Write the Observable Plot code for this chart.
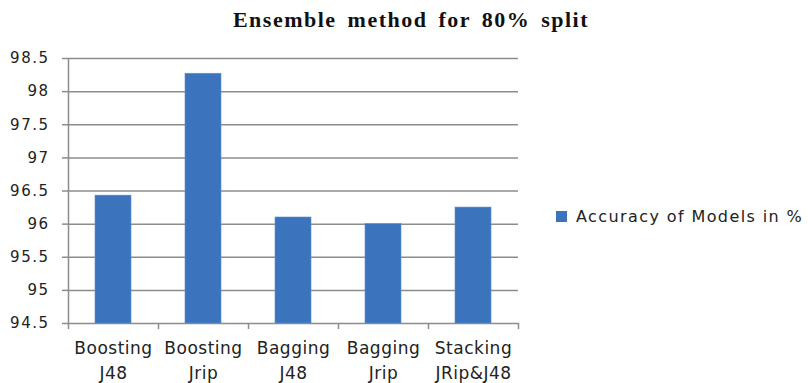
<!DOCTYPE html>
<html>
<head>
<meta charset="utf-8">
<script src="https://cdn.jsdelivr.net/npm/d3@7"></script>
<script src="https://cdn.jsdelivr.net/npm/@observablehq/plot@0.6"></script>
<style>
  html, body { margin: 0; padding: 0; background: #fff; }
  #wrap { position: relative; width: 808px; height: 383px; overflow: hidden; font-family: "DejaVu Sans", sans-serif; }
  #title { position: absolute; top: 7px; left: 0; width: 822px; text-align: center; font-family: "Liberation Serif", serif; font-weight: bold; font-size: 22px; letter-spacing: 1.5px; word-spacing: 4px; color: #111; }
  #legend { position: absolute; left: 556px; top: 207px; display: flex; align-items: center; font-size: 16px; letter-spacing: 1.4px; color: #222; white-space: nowrap; }
  #legend .sw { width: 11px; height: 11px; background: #3b74bd; margin-right: 9px; }
  #chart { position: absolute; left: 0; top: 0; }
  svg text { letter-spacing: 0.5px; }
  svg g[aria-label="y-axis tick label"] text { letter-spacing: 1.5px; }
</style>
</head>
<body>
<div id="wrap">
  <div id="chart"></div>
  <div id="title">Ensemble method for 80% split</div>
  <div id="legend"><div class="sw"></div><span>Accuracy of Models in %</span></div>
</div>
<script>
const categories = ["Boosting\nJ48", "Boosting\nJrip", "Bagging\nJ48", "Bagging\nJrip", "Stacking\nJRip&J48"];
const accuracy = [96.43, 98.27, 96.10, 96.00, 96.25];
const yTicks = [94.5, 95, 95.5, 96, 96.5, 97, 97.5, 98, 98.5];
const yDomain = [94.5, 98.5];

const data = categories.map((label, i) => ({label, i, value: accuracy[i]}));
const boundaries = d3.range(categories.length + 1);
const grid = "#8c8c8c";

const chart = Plot.plot({
  width: 808,
  height: 383,
  marginLeft: 68,
  marginRight: 290,
  marginTop: 58,
  marginBottom: 60,
  style: {fontFamily: "DejaVu Sans, sans-serif", background: "transparent"},
  x: {domain: [0, categories.length], axis: null},
  y: {domain: yDomain, axis: null},
  marks: [
    Plot.gridY(yTicks, {stroke: grid, strokeOpacity: 1, strokeWidth: 1.5}),
    Plot.axisY(yTicks, {label: null, tickSize: 6, tickPadding: 13, stroke: grid, strokeWidth: 1.5, fill: "#222", fontSize: 15, tickFormat: d => String(d)}),
    Plot.axisX(boundaries, {label: null, anchor: "bottom", tickSize: 6, stroke: grid, strokeWidth: 1.5, tickFormat: () => ""}),
    Plot.ruleX([0], {y1: yDomain[0], y2: yDomain[1], stroke: grid, strokeWidth: 1.5}),
    Plot.rectY(data, {x1: "i", x2: d => d.i + 1, y1: yDomain[0], y2: "value", insetLeft: 27, insetRight: 27, fill: "#3b74bd", stroke: "#5d8fd0", strokeWidth: 0.6}),
    Plot.text(data, {x: d => d.i + 0.5, y: yDomain[0], text: "label", lineAnchor: "top", dy: 13, fontSize: 17, lineHeight: 1.45, fill: "#222"})
  ]
});
document.getElementById("chart").appendChild(chart);
</script>
</body>
</html>
